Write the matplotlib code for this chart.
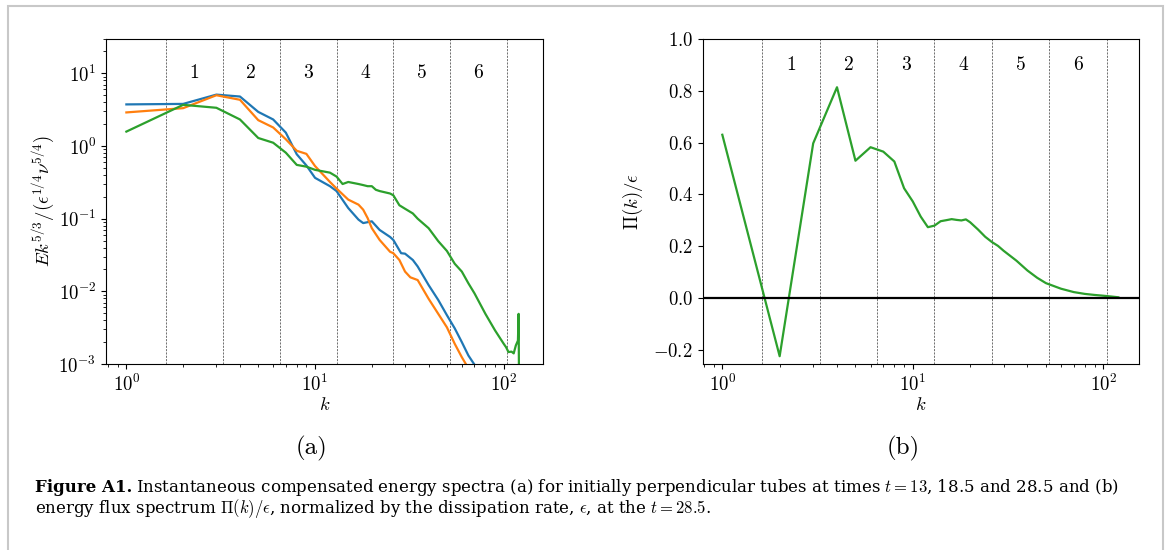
import numpy as np
import matplotlib
matplotlib.use("Agg")
import matplotlib.pyplot as plt
from matplotlib.patches import Rectangle

plt.rcParams.update({
    "font.family": "serif",
    "font.serif": ["cmr10"],
    "mathtext.fontset": "cm",
    "axes.formatter.use_mathtext": True,
    "font.size": 13.5,
})

# shell boundaries and their numbers
band_edges = [1.625, 3.25, 6.5, 13, 26, 52, 104]
band_labels = ["1", "2", "3", "4", "5", "6"]

# (a) compensated energy spectra
k_t13 = [1, 2, 3, 4, 5, 6, 7, 8, 9, 10, 12, 13, 15, 17, 18, 20, 22, 25, 26,
         28.6, 30, 33, 35, 40, 45, 50, 55, 60, 65, 70, 75]
E_t13 = [3.74, 3.80, 5.1, 4.8, 2.95, 2.32, 1.53, 0.77, 0.54, 0.365, 0.28,
         0.24, 0.14, 0.097, 0.087, 0.092, 0.070, 0.056, 0.051, 0.0335, 0.033,
         0.027, 0.022, 0.0122, 0.0076, 0.0047, 0.0031, 0.0020, 0.00131,
         0.00098, 0.0007]

k_t18 = [1, 2, 3, 4, 5, 6, 7, 8, 9, 10, 12, 13, 15, 17, 18, 19, 20, 22, 25,
         26, 28, 30, 32, 35, 40, 45, 50, 55, 60, 63, 70]
E_t18 = [2.9, 3.32, 5.0, 4.33, 2.27, 1.8, 1.24, 0.86, 0.78, 0.53, 0.32, 0.26,
         0.183, 0.156, 0.133, 0.102, 0.074, 0.051, 0.035, 0.0335, 0.027,
         0.0187, 0.0156, 0.0143, 0.0079, 0.0049, 0.0032, 0.0019, 0.00124,
         0.0010, 0.0006]

k_t28 = [1, 2, 3, 4, 5, 6, 7, 8, 9, 10, 12, 13, 14, 15, 17, 18, 19, 20, 21,
         22, 25, 26, 28, 30, 33, 35, 40, 45, 50, 55, 60, 65, 70, 80, 90, 100,
         103, 106, 110, 113, 116, 119, 120, 121]
E_t28 = [1.58, 3.69, 3.36, 2.32, 1.29, 1.11, 0.81, 0.55, 0.52, 0.47, 0.43,
         0.38, 0.30, 0.32, 0.30, 0.29, 0.28, 0.28, 0.25, 0.24, 0.222, 0.21,
         0.153, 0.137, 0.118, 0.10, 0.074, 0.049, 0.036, 0.024, 0.0187,
         0.0129, 0.0094, 0.0049, 0.0029, 0.0019, 0.0017, 0.00146, 0.00148,
         0.0014, 0.0018, 0.0021, 0.0049, 0.0001]

# (b) energy flux at t = 28.5
k_flux = [1, 2, 3, 4, 5, 6, 7, 8, 9, 10, 11, 12, 13, 14, 15, 16, 17, 18, 19,
          20, 22, 24, 26, 28, 30, 35, 40, 45, 50, 60, 70, 80, 90, 100, 110, 120]
flux = [0.63, -0.223, 0.597, 0.813, 0.53, 0.582, 0.565, 0.527, 0.424, 0.373,
        0.315, 0.274, 0.28, 0.297, 0.301, 0.305, 0.302, 0.30, 0.304, 0.293,
        0.265, 0.237, 0.217, 0.202, 0.183, 0.145, 0.107, 0.079, 0.0585, 0.037,
        0.024, 0.017, 0.013, 0.010, 0.007, 0.004]

W, H = 1165, 550
fig = plt.figure(figsize=(W / 100, H / 100), dpi=100)
ax1 = fig.add_axes([106 / W, 1 - 364 / H, 437.3 / W, 325.3 / H])
ax2 = fig.add_axes([702.7 / W, 1 - 364 / H, 435.8 / W, 325.3 / H])

mids = [np.sqrt(a * b) for a, b in zip(band_edges[:-1], band_edges[1:])]

for ax in (ax1, ax2):
    ax.set_xscale("log")
    for e in band_edges:
        ax.axvline(e, color="0.35", lw=0.6, ls=(0, (2.5, 1.5)), zorder=1)

# panel (a)
ax1.set_yscale("log")
ax1.plot(k_t13, E_t13, color="tab:blue", lw=1.6)
ax1.plot(k_t18, E_t18, color="tab:orange", lw=1.6)
ax1.plot(k_t28, E_t28, color="tab:green", lw=1.6)
for m, lab in zip(mids, band_labels):
    ax1.text(m, 10, lab, ha="center", va="center", fontsize=14)
ax1.set_xlim(10 ** -0.108, 10 ** 2.21)
ax1.set_ylim(1e-3, 30)
ax1.set_xlabel(r"$k$")
ax1.set_ylabel(r"$Ek^{5/3}/(\epsilon^{1/4}\nu^{5/4})$")
ax1.yaxis.set_label_coords(-0.112, 0.5)
ax1.xaxis.set_label_coords(0.5, -0.10)

# panel (b)
ax2.plot(k_flux, flux, color="tab:green", lw=1.6)
ax2.axhline(0, color="k", lw=1.6)
for m, lab in zip(mids, band_labels):
    ax2.text(m, 0.9, lab, ha="center", va="center", fontsize=14)
ax2.set_xlim(10 ** -0.103, 10 ** 2.185)
ax2.set_ylim(-0.253, 1.0)
ax2.set_yticks(np.arange(-0.2, 1.01, 0.2))
ax2.set_xlabel(r"$k$")
ax2.set_ylabel(r"$\Pi(k)/\epsilon$")
ax2.yaxis.set_label_coords(-0.132, 0.5)
ax2.xaxis.set_label_coords(0.5, -0.10)

fig.text(312 / W, 1 - 448 / H, "(a)", ha="center", va="center", fontsize=18)
fig.text(903 / W, 1 - 448 / H, "(b)", ha="center", va="center", fontsize=18)

# caption
cap_font = dict(family="DejaVu Serif", fontsize=12)
y_line1 = 1 - 492.5 / H
y_line2 = 1 - 513.5 / H
t1 = fig.text(35 / W, y_line1, "Figure A1.", fontweight="bold",
              va="baseline", **cap_font)
fig.canvas.draw()
bb = t1.get_window_extent()
fig.text((bb.x1 + 4) / W, y_line1,
         "Instantaneous compensated energy spectra (a) for initially "
         "perpendicular tubes at times $t = 13$, 18.5 and 28.5 and (b)",
         va="baseline", **cap_font)
fig.text(35 / W, y_line2,
         r"energy flux spectrum $\Pi(k)/\epsilon$, normalized by the "
         r"dissipation rate, $\epsilon$, at the $t = 28.5$.",
         va="baseline", **cap_font)

fig.patches.append(Rectangle((8 / W, -0.1), (1162.7 - 8) / W, 1.1 - 5.7 / H,
                             transform=fig.transFigure, fill=False,
                             ec="#c8c8c8", lw=1.5))

fig.savefig("out.png", dpi=100)
